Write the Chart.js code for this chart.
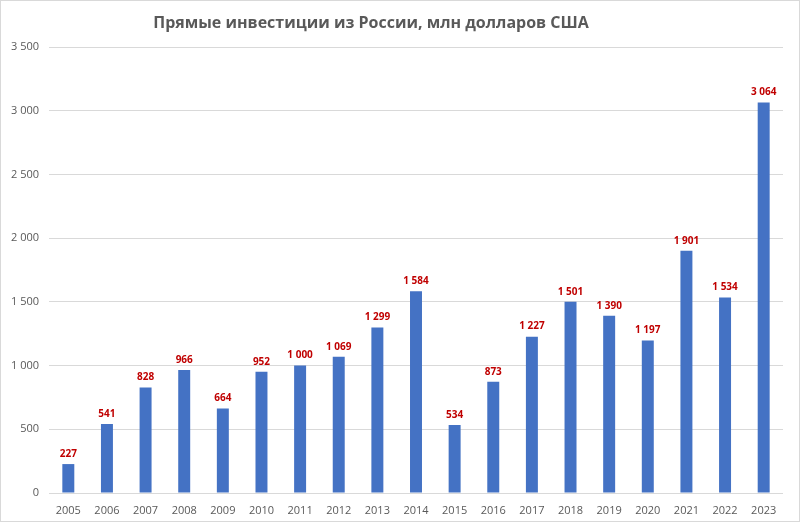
<!DOCTYPE html>
<html>
<head>
<meta charset="utf-8">
<script src="https://cdn.jsdelivr.net/npm/chart.js@4"></script>
<style>
html,body{margin:0;padding:0;background:#fff;}
#wrap{position:relative;width:800px;height:522px;box-sizing:border-box;border:1px solid #d9d9d9;}
canvas{display:block;}
</style>
</head>
<body>
<div id="wrap"><canvas id="c" width="798" height="520"></canvas></div>
<script>
const years = ['2005','2006','2007','2008','2009','2010','2011','2012','2013','2014','2015','2016','2017','2018','2019','2020','2021','2022','2023'];
const investments = [227,541,828,966,664,952,1000,1069,1299,1584,534,873,1227,1501,1390,1197,1901,1534,3064];
const titleText = 'Прямые инвестиции из России, млн долларов США';

function fmt(v){ return String(v).replace(/\B(?=(\d{3})+(?!\d))/g,' '); }

const FONT = '"Open Sans", "Noto Sans", sans-serif';

const labelPlugin = {
  id:'labels',
  afterDatasetsDraw(chart){
    const ctx = chart.ctx;
    const meta = chart.getDatasetMeta(0);
    ctx.save();
    ctx.font = 'bold 10px ' + FONT;
    ctx.fillStyle = '#c00000';
    ctx.textAlign = 'center';
    ctx.textBaseline = 'bottom';
    meta.data.forEach((bar,i)=>{
      ctx.fillText(fmt(investments[i]), bar.x, bar.y - 5);
    });
    ctx.restore();
  }
};
const titlePlugin = {
  id:'ttl',
  afterDraw(chart){
    const ctx = chart.ctx;
    ctx.save();
    ctx.font = 'bold 16px ' + FONT;
    ctx.fillStyle = '#595959';
    ctx.textAlign = 'center';
    ctx.textBaseline = 'middle';
    ctx.fillText(titleText, 370, 22);
    ctx.restore();
  }
};

new Chart(document.getElementById('c'), {
  type:'bar',
  data:{ labels: years, datasets:[{ data: investments, backgroundColor:'#4472c4', barPercentage:0.31, categoryPercentage:1 }]},
  plugins:[labelPlugin,titlePlugin],
  options:{
    responsive:false,
    animation:false,
    layout:{ padding:{ top:46, right:16, left:0, bottom:0 } },
    plugins:{ legend:{display:false}, title:{display:false}, tooltip:{enabled:false} },
    scales:{
      x:{
        grid:{ display:false },
        border:{ display:false },
        ticks:{ color:'#595959', font:{ family:FONT, size:11 }, padding:3 },
        afterFit(s){ s.height = 28; }
      },
      y:{
        min:0, max:3500,
        ticks:{ stepSize:500, color:'#595959', font:{ family:FONT, size:11 }, padding:10, callback:(v)=>fmt(v) },
        grid:{ color:'#d9d9d9', drawTicks:false },
        border:{ display:false },
        afterFit(s){ s.width = 48; }
      }
    }
  }
});
</script>
</body>
</html>
